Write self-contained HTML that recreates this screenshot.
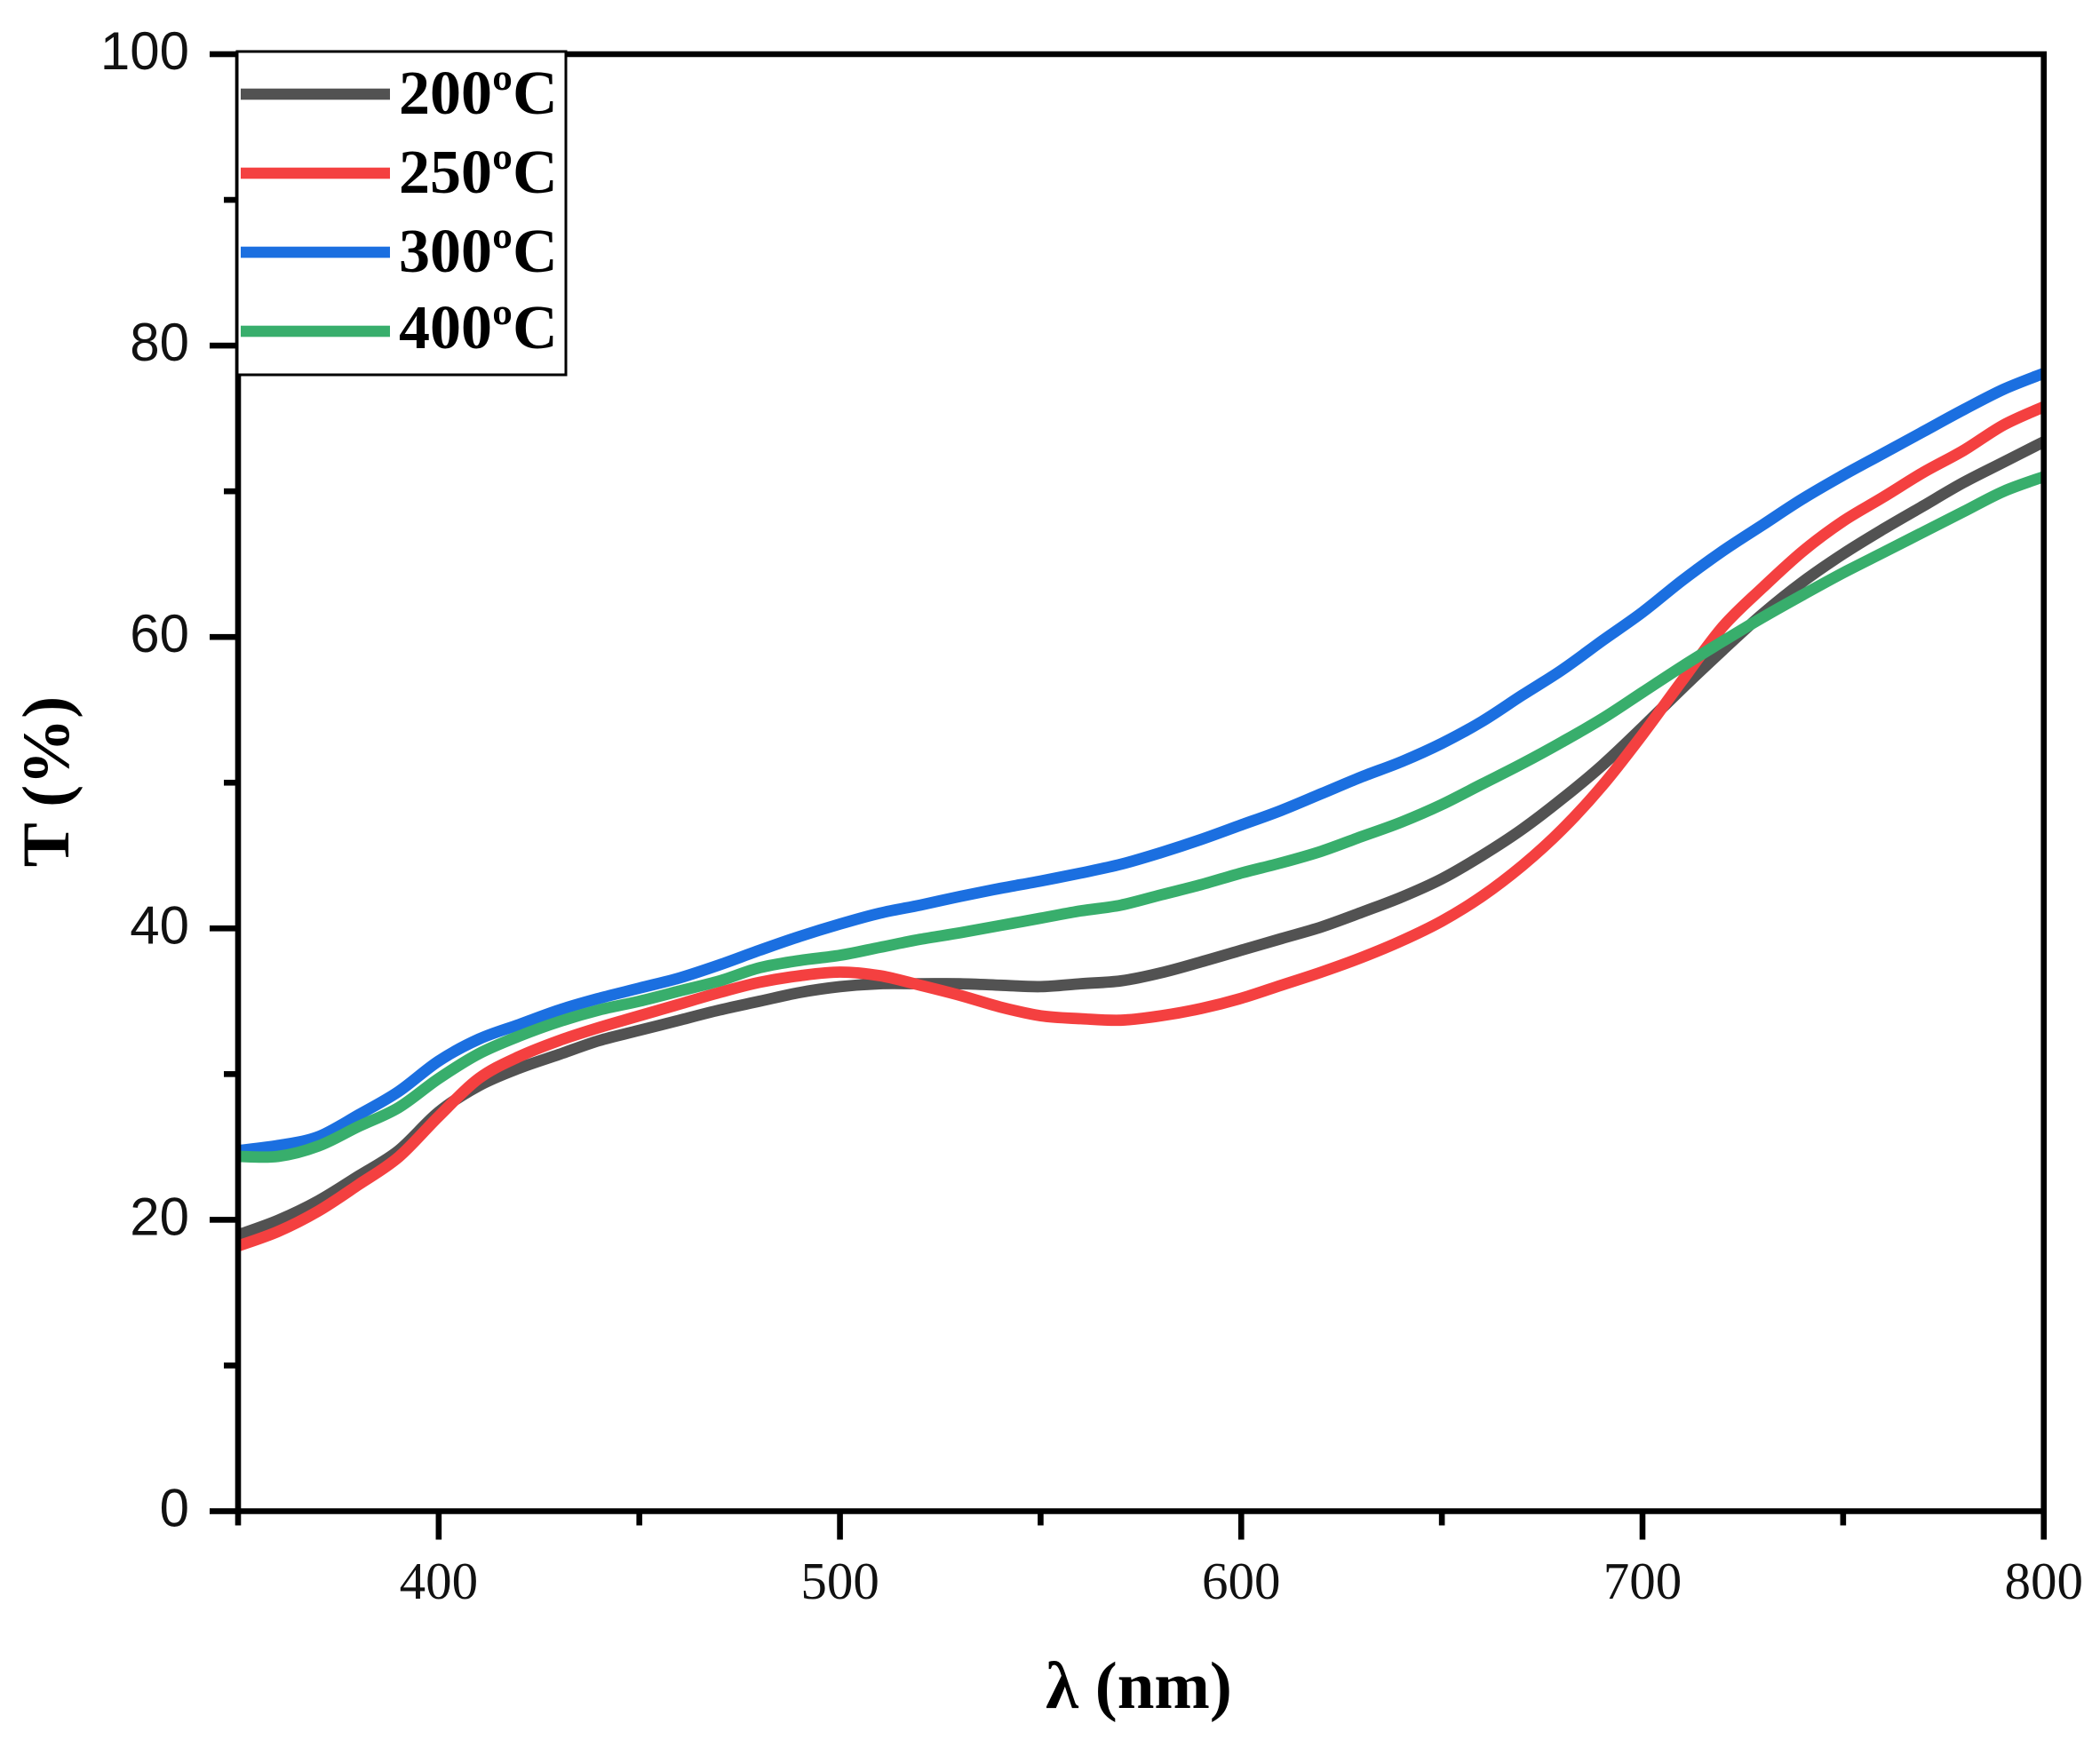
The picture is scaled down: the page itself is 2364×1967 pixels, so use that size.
<!DOCTYPE html>
<html lang="en">
<head>
<meta charset="utf-8">
<title>Transmittance vs wavelength</title>
<style>
html,body{margin:0;padding:0;background:#fff;width:2364px;height:1967px;overflow:hidden}
svg{display:block}
.ylab{font-family:"Liberation Sans",sans-serif;font-size:60px;fill:#111;text-anchor:end}
.xlab{font-family:"Liberation Serif",serif;font-size:59px;fill:#111;text-anchor:middle}
.title{font-family:"Liberation Serif",serif;font-weight:bold;fill:#000;text-anchor:middle}
.legend-text{font-family:"Liberation Serif",serif;font-weight:bold;font-size:70px;fill:#000}
</style>
</head>
<body>
<svg id="chart" xmlns="http://www.w3.org/2000/svg" width="2364" height="1967" viewBox="0 0 2364 1967">
  <rect x="0" y="0" width="2364" height="1967" fill="#fff"/>
  <defs><clipPath id="plot-clip"><rect x="268" y="61" width="2033" height="1641"/></clipPath></defs>
  <g id="series" clip-path="url(#plot-clip)"></g>
  <g id="axes"></g>
  <g id="legend"></g>
  <text class="title" x="1282" y="1923" font-size="75">λ (nm)</text>
  <text class="title" transform="translate(77 880) rotate(-90)" font-size="75">T (%)</text>
</svg>
<script>
const wavelengths = [350,360,370,380,390,400,410,420,430,440,450,460,470,480,490,500,510,520,530,540,550,560,570,580,590,600,610,620,630,640,650,660,670,680,690,700,710,720,730,740,750,760,770,780,790,800];
const t200 = [18.96,19.97,21.3,23.0,24.75,27.4,29.2,30.4,31.35,32.3,33.0,33.7,34.4,35.0,35.6,36.0,36.2,36.2,36.2,36.1,36.0,36.2,36.4,36.95,37.7,38.5,39.3,40.1,41.1,42.15,43.4,45,46.8,48.9,51.2,53.8,56.5,59.1,61.6,63.8,65.7,67.4,69,70.6,72,73.4];
const t250 = [18.2,19.2,20.6,22.4,24.3,27.1,29.7,31.2,32.3,33.2,34,34.8,35.6,36.3,36.75,37.0,36.75,36.1,35.4,34.6,34,33.8,33.7,34,34.5,35.2,36.1,37,38,39.15,40.5,42.2,44.3,46.8,49.8,53.3,57.05,60.7,63.4,65.9,67.95,69.6,71.3,72.8,74.55,75.8];
const t300 = [24.75,25.1,25.7,27.2,28.8,30.9,32.4,33.4,34.4,35.2,35.9,36.6,37.5,38.5,39.45,40.3,41.05,41.6,42.2,42.75,43.25,43.8,44.4,45.2,46.1,47.1,48.1,49.25,50.4,51.45,52.7,54.2,56,57.75,59.75,61.7,63.9,65.9,67.7,69.5,71.1,72.6,74.1,75.6,77,78.1];
const t400 = [24.35,24.35,25.06,26.4,27.7,29.7,31.4,32.6,33.6,34.4,35,35.7,36.4,37.3,37.8,38.15,38.7,39.25,39.7,40.2,40.7,41.2,41.6,42.3,43,43.8,44.5,45.3,46.3,47.3,48.5,49.9,51.3,52.8,54.4,56.2,58,59.7,61.35,62.9,64.4,65.8,67.2,68.6,70,71];
const seriesLabels = ['200ºC','250ºC','300ºC','400ºC'];
const xMajorTicks = [400,500,600,700,800];
const xMinorTicks = [350,450,550,650,750];
const yMajorTicks = [0,20,40,60,80,100];
const yMinorTicks = [10,30,50,70,90];

const NS = 'http://www.w3.org/2000/svg';
const X0 = 268, X1 = 2300.7, Y0 = 1701.5, Y1 = 61;
const xScale = v => X0 + (v - 350) * (X1 - X0) / 450;
const yScale = v => Y0 - v * (Y0 - Y1) / 100;

function make(tag, attrs, parent, text) {
  const el = document.createElementNS(NS, tag);
  for (const k in attrs) el.setAttribute(k, attrs[k]);
  if (text !== undefined) el.textContent = text;
  parent.appendChild(el);
  return el;
}

function smoothPath(xs, ys) {
  const p = xs.map((x, i) => [xScale(x), yScale(ys[i])]);
  let d = 'M' + p[0][0].toFixed(1) + ' ' + p[0][1].toFixed(1);
  for (let i = 0; i < p.length - 1; i++) {
    const a = p[Math.max(i - 1, 0)], b = p[i], c = p[i + 1], e = p[Math.min(i + 2, p.length - 1)];
    const c1x = b[0] + (c[0] - a[0]) / 6, c1y = b[1] + (c[1] - a[1]) / 6;
    const c2x = c[0] - (e[0] - b[0]) / 6, c2y = c[1] - (e[1] - b[1]) / 6;
    d += 'C' + c1x.toFixed(1) + ' ' + c1y.toFixed(1) + ' ' + c2x.toFixed(1) + ' ' + c2y.toFixed(1) + ' ' + c[0].toFixed(1) + ' ' + c[1].toFixed(1);
  }
  return d;
}

const seriesG = document.getElementById('series');
const axesG = document.getElementById('axes');
const legendG = document.getElementById('legend');
const LINE_W = 12.8;

const line200 = make('path', {d: smoothPath(wavelengths, t200), fill: 'none', stroke: '#525252', 'stroke-width': LINE_W}, seriesG);


const line250 = make('path', {d: smoothPath(wavelengths, t250), fill: 'none', stroke: '#f44040', 'stroke-width': LINE_W}, seriesG);


const line300 = make('path', {d: smoothPath(wavelengths, t300), fill: 'none', stroke: '#1b6fe0', 'stroke-width': LINE_W}, seriesG);


const line400 = make('path', {d: smoothPath(wavelengths, t400), fill: 'none', stroke: '#38ae6c', 'stroke-width': LINE_W}, seriesG);



/* frame */
const frame = make('path', {d: 'M' + X0 + ' ' + Y1 + 'V' + Y0 + 'H' + X1 + 'V' + Y1 + 'Z', fill: 'none', stroke: '#000', 'stroke-width': 6.6}, axesG);



/* x ticks */
xMajorTicks.forEach(v => {
  const tick = make('rect', {x: xScale(v) - 3.3, y: Y0, width: 6.6, height: 32, fill: '#000'}, axesG);
  
  
  const label = make('text', {class: 'xlab', x: xScale(v), y: 1800}, axesG, String(v));
  
  
});
xMinorTicks.forEach(v => {
  const tick = make('rect', {x: xScale(v) - 3.3, y: Y0, width: 6.6, height: 16, fill: '#000'}, axesG);
  
  
});

/* y ticks */
yMajorTicks.forEach(v => {
  const tick = make('rect', {x: 236, y: yScale(v) - 3.3, width: X0 - 236, height: 6.6, fill: '#000'}, axesG);
  
  
  const label = make('text', {class: 'ylab', x: 213, y: yScale(v) + 17}, axesG, String(v));
  
  
});
yMinorTicks.forEach(v => {
  const tick = make('rect', {x: 252, y: yScale(v) - 3.3, width: X0 - 252, height: 6.6, fill: '#000'}, axesG);
  
  
});

/* legend */
const legendBox = make('rect', {x: 267, y: 58, width: 370, height: 364, fill: '#fff', stroke: '#000', 'stroke-width': 3}, legendG);



const legendColors = ['#525252', '#f44040', '#1b6fe0', '#38ae6c'];
const legendLineY = [106, 195, 284, 373];
const legendTextY = [128, 217, 306, 392];
seriesLabels.forEach((name, i) => {
  const swatch = make('rect', {x: 271, y: legendLineY[i] - 6.3, width: 168, height: 12.6, fill: legendColors[i]}, legendG);
  
  
  const label = make('text', {class: 'legend-text', x: 449, y: legendTextY[i]}, legendG, name);
  
  
});
</script>
</body>
</html>
